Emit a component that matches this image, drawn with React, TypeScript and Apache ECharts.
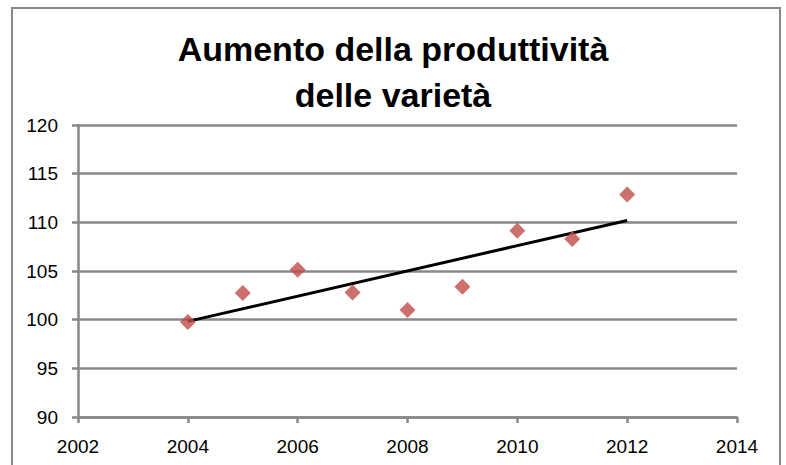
import React, { useEffect, useRef } from "react";
import * as echarts from "echarts";

const titleLines = ["Aumento della produttività", "delle varietà"];
const years = [2004, 2005, 2006, 2007, 2008, 2009, 2010, 2011, 2012];
const values = [99.75, 102.73, 105.13, 102.8, 101.0, 103.38, 109.14, 108.3, 112.87];
const xTicks = { min: 2002, max: 2014, interval: 2 };
const yTicks = { min: 90, max: 120, interval: 5 };

function linearFit(xs: number[], ys: number[]) {
  const n = xs.length;
  const mx = xs.reduce((a, b) => a + b, 0) / n;
  const my = ys.reduce((a, b) => a + b, 0) / n;
  let sxy = 0;
  let sxx = 0;
  for (let i = 0; i < n; i++) {
    sxy += (xs[i] - mx) * (ys[i] - my);
    sxx += (xs[i] - mx) * (xs[i] - mx);
  }
  const b = sxy / sxx;
  const a = my - b * mx;
  return (x: number) => a + b * x;
}

export default function App() {
  const ref = useRef<HTMLDivElement>(null);
  useEffect(() => {
    if (!ref.current) return;
    const chart = echarts.init(ref.current, null, { renderer: "svg" });
    const fit = linearFit(years, values);
    const x0 = years[0];
    const x1 = years[years.length - 1];
    const gray = "#888888";
    const font = "'Liberation Sans', Arial, sans-serif";
    chart.setOption({
      animation: false,
      backgroundColor: "#ffffff",
      title: {
        text: titleLines.join("\n"),
        left: "center",
        top: 21,
        textStyle: {
          fontFamily: font,
          fontWeight: "bold",
          fontSize: 34,
          lineHeight: 46,
          color: "#000000",
        },
      },
      graphic: [
        {
          type: "rect",
          shape: { x: 12, y: 8, width: 768, height: 470 },
          style: { fill: "none", stroke: gray, lineWidth: 2 },
          silent: true,
        },
      ],
      grid: { left: 78, right: 49, top: 125, bottom: 48, containLabel: false },
      xAxis: {
        type: "value",
        min: xTicks.min,
        max: xTicks.max,
        interval: xTicks.interval,
        axisLine: { show: true, lineStyle: { color: gray, width: 2.5 } },
        axisTick: { show: true, length: 6, lineStyle: { color: gray, width: 2.5 } },
        splitLine: { show: false },
        axisLabel: {
          color: "#000",
          fontSize: 19,
          fontFamily: font,
          margin: 20,
          formatter: (v: number) => String(v),
        },
      },
      yAxis: {
        type: "value",
        min: yTicks.min,
        max: yTicks.max,
        interval: yTicks.interval,
        axisLine: { show: true, lineStyle: { color: gray, width: 2.5 } },
        axisTick: { show: true, length: 6, lineStyle: { color: gray, width: 2.5 } },
        splitLine: { show: true, lineStyle: { color: gray, width: 2.5 } },
        axisLabel: { color: "#000", fontSize: 19, fontFamily: font, margin: 20 },
      },
      series: [
        {
          type: "line",
          data: [
            [x0, fit(x0)],
            [x1, fit(x1)],
          ],
          showSymbol: false,
          symbol: "none",
          lineStyle: { color: "#000000", width: 3 },
          z: 3,
        },
        {
          type: "scatter",
          data: years.map((y, i) => [y, values[i]]),
          symbol: "diamond",
          symbolSize: 16,
          itemStyle: { color: "#bf4b48" },
          z: 4,
        },
      ],
    });
    return () => chart.dispose();
  }, []);
  return <div ref={ref} style={{ width: 786, height: 465, position: "absolute", left: 0, top: 0 }} />;
}
